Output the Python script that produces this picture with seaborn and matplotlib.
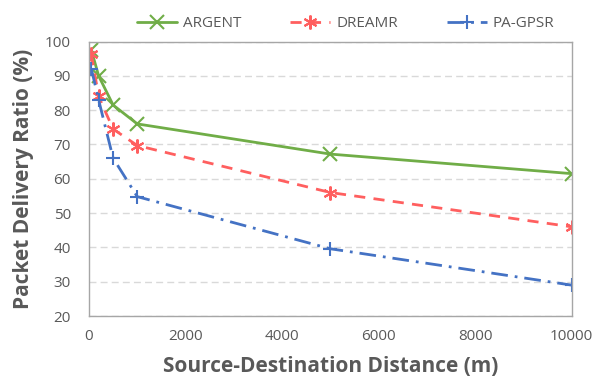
import pandas as pd
import seaborn as sns
import matplotlib.pyplot as plt

distance = [50, 200, 500, 1000, 5000, 10000]
argent = [97.5, 90, 81.5, 76, 67.2, 61.5]
dreamr = [96.3, 84, 74.5, 69.7, 56, 46]
pagpsr = [92, 83, 66, 54.8, 39.6, 29]
names = ["ARGENT", "DREAMR", "PA-GPSR"]

df = pd.DataFrame({
    "x": distance * 3,
    "y": argent + dreamr + pagpsr,
    "proto": [n for n in names for _ in distance],
})

sns.set_style("white")
plt.rcParams["font.family"] = ["Open Sans", "DejaVu Sans"]
grey = "#595959"

fig = plt.figure(figsize=(5.96, 3.78), dpi=100)
ax = fig.add_axes([0.1493, 0.164, 0.81, 0.726])

colors = {"ARGENT": "#70AD47", "DREAMR": "#FF5F5F", "PA-GPSR": "#4472C4"}
lstyles = {"ARGENT": "-", "DREAMR": (0, (4, 3)), "PA-GPSR": (0, (6, 2.5, 1, 2.5))}
markers = {"ARGENT": "x", "DREAMR": (6, 2, 0), "PA-GPSR": "+"}
for n in names:
    sns.lineplot(data=df[df.proto == n], x="x", y="y", color=colors[n],
                 linestyle=lstyles[n], marker=markers[n], markersize=10,
                 markeredgewidth=1.5, markeredgecolor=colors[n],
                 linewidth=2, label=n, ax=ax)

ax.set_xlim(0, 10000)
ax.set_ylim(20, 100)
ax.set_xticks(range(0, 10001, 2000))
ax.set_yticks(range(20, 101, 10))
ax.yaxis.grid(True, color="#D9D9D9", linestyle=(0, (5, 3)), linewidth=1)
for s in ax.spines.values():
    s.set_color("#A6A6A6")
    s.set_linewidth(1)
ax.tick_params(direction="in", length=4, color="#A6A6A6", labelsize=11, labelcolor=grey)
ax.tick_params(axis="x", pad=9)
ax.tick_params(axis="y", pad=13)
ax.set_xlabel("Source-Destination Distance (m)", fontsize=15, fontweight="bold", color=grey,
              labelpad=9)
ax.set_ylabel("Packet Delivery Ratio (%)", fontsize=15, fontweight="bold", color=grey,
              labelpad=8)

leg = ax.legend(loc="lower center", bbox_to_anchor=(0.532, 1.0), ncol=3, frameon=False,
                fontsize=11, handlelength=2.6, handletextpad=0.4, columnspacing=3.2,
                borderaxespad=0.3)
for t in leg.get_texts():
    t.set_color(grey)

fig.savefig("out.png", dpi=100)
